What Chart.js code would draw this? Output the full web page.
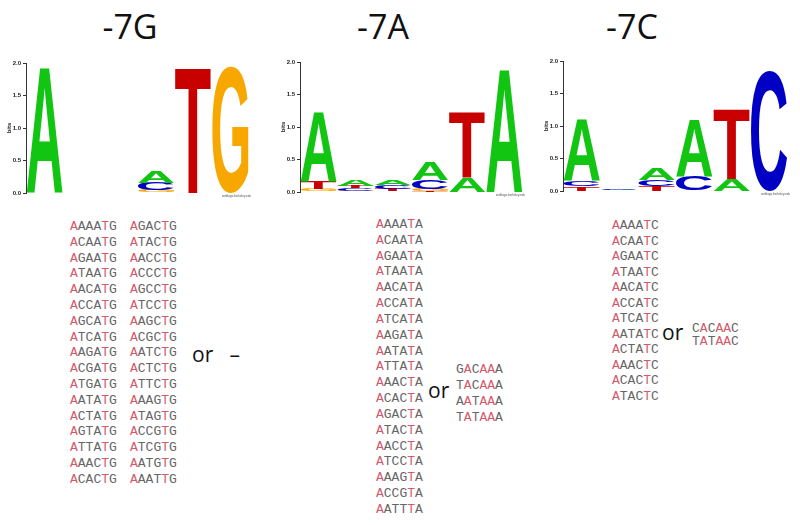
<!DOCTYPE html>
<html>
<head>
<meta charset="utf-8">
<script src="https://cdn.jsdelivr.net/npm/chart.js@4.4.1/dist/chart.umd.min.js"></script>
<style>
body { margin: 0; background: #fff; }
#page { position: relative; width: 800px; height: 525px; overflow: hidden; font-family: "Open Sans", sans-serif; }
.title { position: absolute; top: 3px; width: 120px; text-align: center; font-size: 34px; color: #111; }
canvas { position: absolute; }
.seq { position: absolute; font-family: "Liberation Mono", monospace; font-size: 13px; color: #666; white-space: pre; }
.seq .r { color: #d4586a; }
.or { position: absolute; font-size: 21px; color: #111; line-height: 26px; }
</style>
</head>
<body>
<div id="page">
  <div class="title" style="left:70px">-7G</div>
  <div class="title" style="left:323px">-7A</div>
  <div class="title" style="left:572px">-7C</div>
  <canvas id="logoG" width="252" height="145" style="left:0px;top:55px"></canvas>
  <canvas id="logoA" width="252" height="145" style="left:274px;top:54px"></canvas>
  <canvas id="logoC" width="254" height="145" style="left:537px;top:53px"></canvas>
  <div class="seq" id="listG1" style="left:70px;top:219px;line-height:15.8px"></div>
  <div class="seq" id="listG2" style="left:130px;top:219px;line-height:15.8px"></div>
  <div class="or" style="left:192px;top:341px">or&nbsp;&nbsp;&nbsp;–</div>
  <div class="seq" id="listA" style="left:376px;top:217px;line-height:15.83px"></div>
  <div class="or" style="left:428px;top:377px">or</div>
  <div class="seq" id="listAalt" style="left:456px;top:362px;line-height:15.9px"></div>
  <div class="seq" id="listC" style="left:612px;top:218px;line-height:15.5px"></div>
  <div class="or" style="left:662px;top:319px">or</div>
  <div class="seq" id="listCalt" style="left:692px;top:322px;line-height:13px"></div>
</div>
<script>
var positions = ['1', '2', '3', '4', '5', '6'];
var bases = ['A', 'C', 'G', 'T'];
var yTicks = [0, 0.5, 1, 1.5, 2];

// -7G logo, bits per base
var logoG_A = [1.94, 0, 0, 0.17, 0, 0];
var logoG_C = [0, 0, 0, 0.11, 0, 0];
var logoG_G = [0, 0, 0, 0.05, 0, 1.95];
var logoG_T = [0, 0, 0, 0, 1.94, 0];

// -7A logo
var logoA_A = [1.07, 0.09, 0.075, 0.27, 0.22, 1.91];
var logoA_C = [0.01, 0.035, 0.06, 0.13, 0, 0];
var logoA_G = [0.04, 0.02, 0.015, 0.03, 0, 0];
var logoA_T = [0.11, 0.045, 0.03, 0.02, 1.02, 0];

// -7C logo
var logoC_A = [0.96, 0.01, 0.18, 0.87, 0.18, 0];
var logoC_C = [0.08, 0.012, 0.09, 0.23, 0, 1.85];
var logoC_G = [0, 0.004, 0, 0, 0, 0];
var logoC_T = [0.07, 0.006, 0.08, 0, 1.08, 0];

var seqG1 = ['AAAATG','ACAATG','AGAATG','ATAATG','AACATG','ACCATG','AGCATG','ATCATG','AAGATG','ACGATG','ATGATG','AATATG','ACTATG','AGTATG','ATTATG','AAACTG','ACACTG'];
var seqG2 = ['AGACTG','ATACTG','AACCTG','ACCCTG','AGCCTG','ATCCTG','AAGCTG','ACGCTG','AATCTG','ACTCTG','ATTCTG','AAAGTG','ATAGTG','ACCGTG','ATCGTG','AATGTG','AAATTG'];
var seqA = ['AAAATA','ACAATA','AGAATA','ATAATA','AACATA','ACCATA','ATCATA','AAGATA','AATATA','ATTATA','AAACTA','ACACTA','AGACTA','ATACTA','AACCTA','ATCCTA','AAAGTA','ACCGTA','AATTTA'];
var seqAalt = ['GACAAA','TACAAA','AATAAA','TATAAA'];
var seqC = ['AAAATC','ACAATC','AGAATC','ATAATC','AACATC','ACCATC','ATCATC','AATATC','ACTATC','AAACTC','ACACTC','ATACTC'];
var seqCalt = ['CACAAC','TATAAC'];

var mainRed = [0, 4];
var altRed = [1, 3, 4];

var baseColors = { A: '#12c512', C: '#0000c4', G: '#f8a700', T: '#c80000' };

function fillList(id, seqs, red) {
  var html = seqs.map(function (s) {
    return s.split('').map(function (ch, i) {
      return red.indexOf(i) >= 0 ? '<span class="r">' + ch + '</span>' : ch;
    }).join('');
  }).join('<br>');
  document.getElementById(id).innerHTML = html;
}
fillList('listG1', seqG1, mainRed);
fillList('listG2', seqG2, mainRed);
fillList('listA', seqA, mainRed);
fillList('listAalt', seqAalt, altRed);
fillList('listC', seqC, mainRed);
fillList('listCalt', seqCalt, altRed);

// stack the bases smallest at bottom, like weblogo does
function buildLayers(h) {
  var layers = [0, 1, 2, 3].map(function () { return { data: [], letters: [] }; });
  positions.forEach(function (p, i) {
    var col = bases.map(function (b) { return { b: b, v: h[b][i] }; });
    col.sort(function (a, b) { return a.v - b.v; });
    col.forEach(function (c, k) {
      layers[k].data.push(c.v);
      layers[k].letters.push(c.b);
    });
  });
  return layers.map(function (L, k) {
    return {
      label: 'layer' + k,
      data: L.data,
      letters: L.letters,
      backgroundColor: 'rgba(0,0,0,0)',
      borderWidth: 0,
      barPercentage: 0.97,
      categoryPercentage: 1,
      stack: 's'
    };
  });
}

function drawLetter(ctx, letter, x, y, w, h) {
  ctx.save();
  ctx.font = 'bold 100px "Liberation Sans", Arial, sans-serif';
  ctx.textAlign = 'left';
  ctx.textBaseline = 'alphabetic';
  var m = ctx.measureText(letter);
  var gw = m.actualBoundingBoxLeft + m.actualBoundingBoxRight;
  var gh = m.actualBoundingBoxAscent + m.actualBoundingBoxDescent;
  ctx.translate(x, y);
  ctx.scale(w / gw, h / gh);
  ctx.fillStyle = baseColors[letter];
  ctx.fillText(letter, m.actualBoundingBoxLeft, m.actualBoundingBoxAscent);
  ctx.restore();
}

var letterPlugin = {
  id: 'letters',
  afterDatasetsDraw: function (chart) {
    var ctx = chart.ctx;
    chart.data.datasets.forEach(function (ds, di) {
      var meta = chart.getDatasetMeta(di);
      meta.data.forEach(function (bar, i) {
        var p = bar.getProps(['x', 'y', 'base', 'width'], true);
        var top = Math.min(p.y, p.base);
        var h = Math.abs(p.base - p.y);
        if (h < 0.4) return;
        drawLetter(ctx, ds.letters[i], p.x - p.width / 2, top, p.width, h);
      });
    });
    var a = chart.chartArea;
    ctx.save();
    ctx.font = '3px "Liberation Sans", sans-serif';
    ctx.fillStyle = '#555';
    ctx.textAlign = 'right';
    ctx.fillText('weblogo.berkeley.edu', a.right + 2, a.bottom + 4);
    ctx.restore();
  }
};

function makeLogo(id, h) {
  new Chart(document.getElementById(id), {
    type: 'bar',
    data: { labels: positions, datasets: buildLayers(h) },
    options: {
      responsive: false,
      animation: false,
      layout: { padding: { top: 8, right: 3, bottom: 7, left: 0 } },
      plugins: { legend: { display: false }, tooltip: { enabled: false } },
      scales: {
        x: { stacked: true, display: false },
        y: {
          stacked: true,
          min: 0,
          max: 2,
          afterFit: function (s) { s.width = 26; },
          afterBuildTicks: function (s) { s.ticks = yTicks.map(function (v) { return { value: v }; }); },
          ticks: {
            font: { size: 6, weight: 'bold', family: '"Liberation Sans", sans-serif' },
            color: '#222',
            padding: 2,
            callback: function (v) { return Number(v).toFixed(1); }
          },
          grid: { display: true, drawOnChartArea: false, tickLength: 3, color: '#333' },
          border: { display: true, color: '#333', width: 1 },
          title: {
            display: true,
            text: 'bits',
            color: '#222',
            font: { size: 6, weight: 'bold', family: '"Liberation Sans", sans-serif' },
            padding: { top: 6, bottom: 0 }
          }
        }
      }
    },
    plugins: [letterPlugin]
  });
}

makeLogo('logoG', { A: logoG_A, C: logoG_C, G: logoG_G, T: logoG_T });
makeLogo('logoA', { A: logoA_A, C: logoA_C, G: logoA_G, T: logoA_T });
makeLogo('logoC', { A: logoC_A, C: logoC_C, G: logoC_G, T: logoC_T });
</script>
</body>
</html>
